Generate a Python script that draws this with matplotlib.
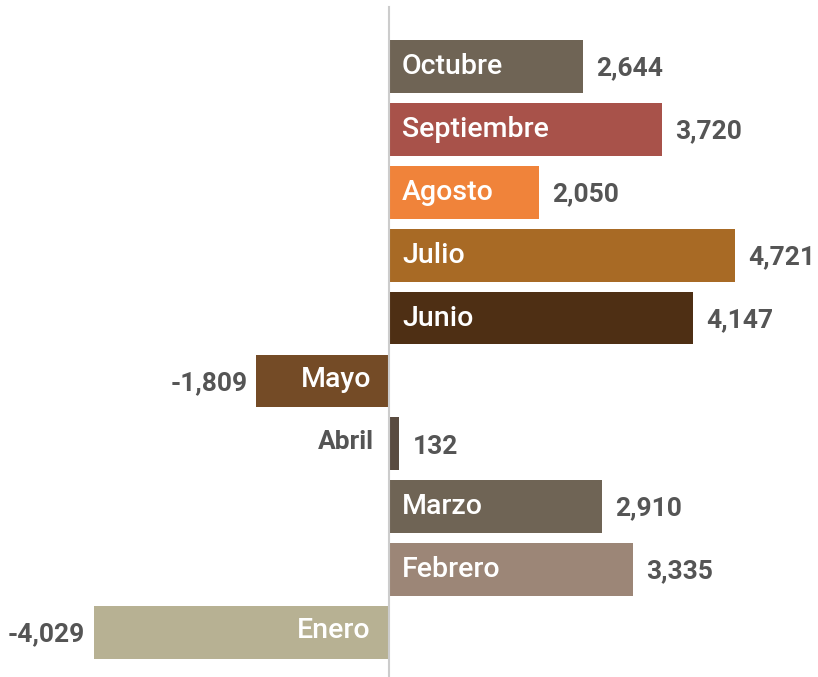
#!/usr/bin/env python3

import matplotlib
matplotlib.use("Agg")
import matplotlib.pyplot as plt


months = ["Enero", "Febrero", "Marzo", "Abril", "Mayo",
          "Junio", "Julio", "Agosto", "Septiembre", "Octubre"]
values = [-4029, 3335, 2910, 132, -1809, 4147, 4721, 2050, 3720, 2644]
colors = ["#b7b193", "#9c8677", "#6f6455", "#5a4b40", "#744b26",
          "#4e2f14", "#a86a25", "#f0833a", "#a8524a", "#6f6455"]


def main():
    fig = plt.figure(figsize=(8.18, 6.77), dpi=100)
    ax = fig.add_axes([0, 0, 1, 1])
    ypos = list(range(len(months)))
    ax.barh(ypos, values, height=0.84, color=colors, zorder=2)
    ax.set_xlim(-5307, 5853)
    ax.set_ylim(-0.707, 10.057)
    ax.axvline(0, ymin=0, ymax=0.99, color="#cccccc", lw=1.5, zorder=3)
    ax.axis("off")

    px = 1 / 0.0733  # data units per pixel
    lab = dict(fontsize=20.5, fontweight="medium", color="white", family="Roboto")
    num = dict(fontsize=19, fontweight="bold", color="#555555", family="Roboto")
    for y, m, v in zip(ypos, months, values):
        s = "{:,}".format(v)
        if abs(v) < 1000:
            # small bar: month outside on the left, value to the right
            ax.text(-15 * px, y + 0.03, m, ha="right", va="center", **num)
            ax.text(v + 14 * px, y - 0.05, s, ha="left", va="center", **num)
        elif v > 0:
            ax.text(13 * px, y, m, ha="left", va="center", **lab)
            ax.text(v + 13 * px, y - 0.03, s, ha="left", va="center", **num)
        else:
            ax.text(-18 * px, y + 0.03, m, ha="right", va="center", **lab)
            ax.text(v - 9 * px, y - 0.03, s, ha="right", va="center", **num)

    fig.savefig("out.png", dpi=100)


if __name__ == '__main__':
    main()
